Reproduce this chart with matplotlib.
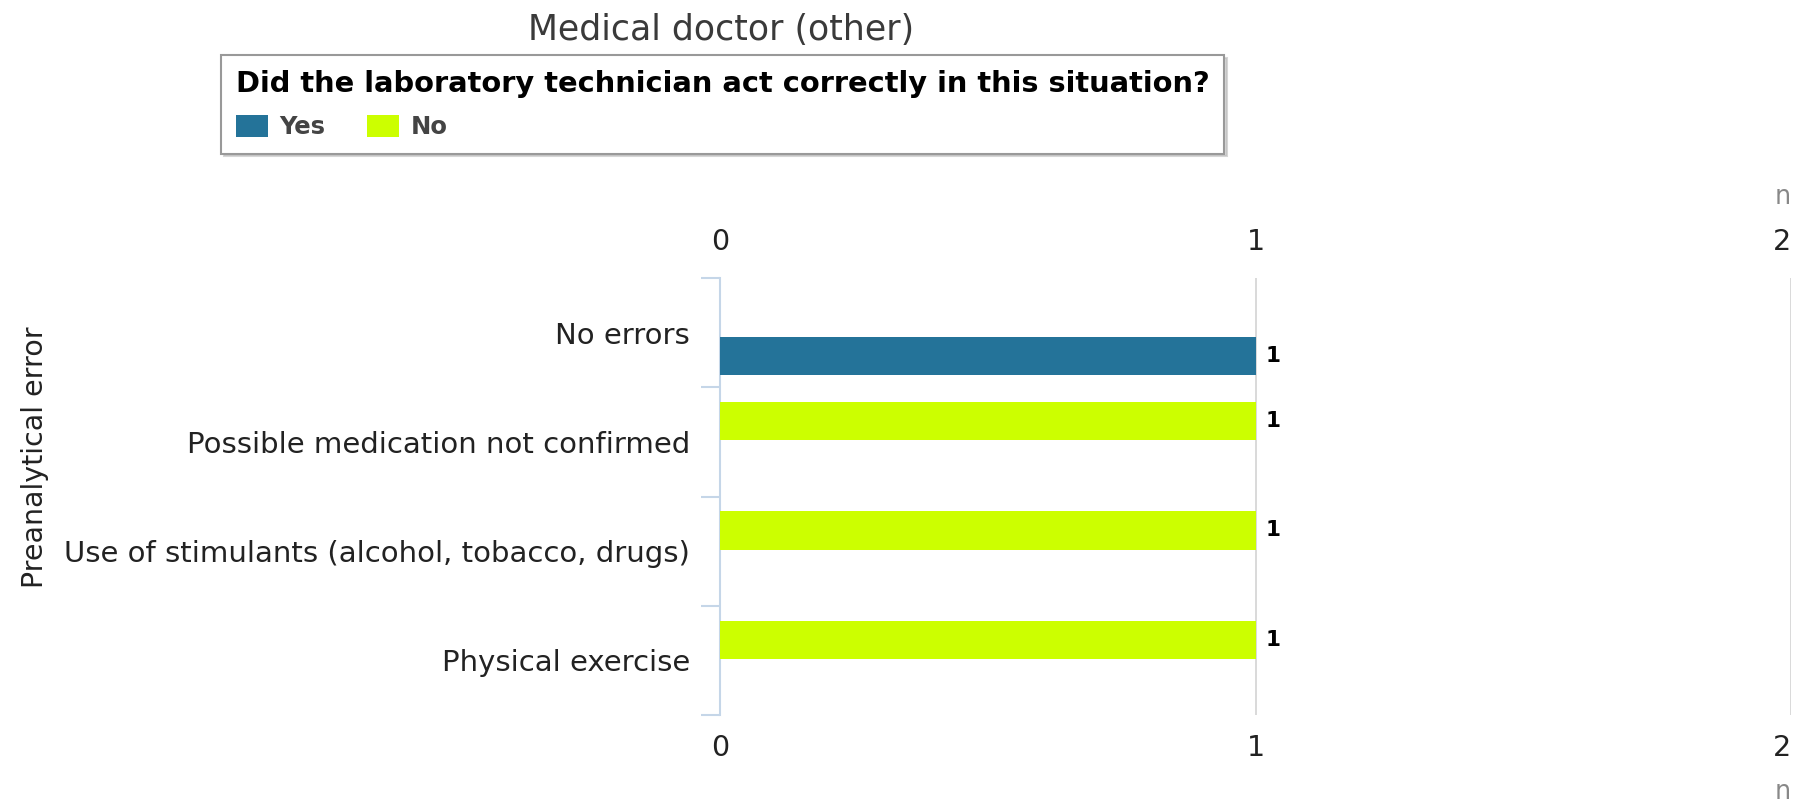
import matplotlib
matplotlib.use('Agg')
import matplotlib.pyplot as plt
import numpy as np

# Data
categories = ['No errors', 'Possible medication not confirmed',
              'Use of stimulants (alcohol, tobacco, drugs)', 'Physical exercise']
yes_counts = [1, 0, 0, 0]
no_counts = [0, 1, 1, 1]
x_ticks = [0, 1, 2]

title = 'Medical doctor (other)'
legend_title = 'Did the laboratory technician act correctly in this situation?'
y_label = 'Preanalytical error'
x_label = 'n'

yes_color = '#247399'
no_color = '#ccff00'
axis_color = '#c5d6e8'
grid_color = '#d9d9d9'
text_color = '#222222'

W, H = 1803, 811
fig = plt.figure(figsize=(W / 100, H / 100), dpi=100)
ax = fig.add_axes([720 / W, 1 - 715 / H, (1791 - 720) / W, (715 - 278.3) / H])

y = np.arange(len(categories))
bar_h = 0.35
b_yes = ax.barh(y + 0.21, yes_counts, height=bar_h, color=yes_color, label='Yes', zorder=3)
b_no = ax.barh(y - 0.19, no_counts, height=bar_h, color=no_color, label='No', zorder=3)

for bars, vals in [(b_yes, yes_counts), (b_no, no_counts)]:
    ax.bar_label(bars, labels=[f'{v:g}' if v else '' for v in vals], padding=7,
                 fontsize=15.5, fontweight='bold', color='black')

ax.set_xlim(0, 2)
ax.set_ylim(len(categories) - 0.5, -0.5)

# y axis: category labels, boundary ticks
ax.set_yticks(y)
ax.set_yticklabels(categories, fontsize=21, color=text_color)
ax.set_yticks(np.arange(len(categories) + 1) - 0.5, minor=True)
ax.tick_params(axis='y', which='major', length=0, pad=21.5)
ax.tick_params(axis='y', which='minor', length=13.7, width=1.5, color=axis_color)

# x axis at bottom and top
ax.set_xticks(x_ticks)
ax.tick_params(axis='x', length=0, pad=14, labelsize=20.5, labelcolor=text_color)
ax.set_xlabel(x_label, loc='right', fontsize=18.4, color='#888888', labelpad=12)
top = ax.secondary_xaxis('top')
top.set_xticks(x_ticks)
top.tick_params(axis='x', length=0, pad=16, labelsize=20.5, labelcolor=text_color)
top.set_xlabel(x_label, loc='right', fontsize=18.4, color='#888888', labelpad=17)
for axis in (ax, top):
    for sp in axis.spines.values():
        sp.set_visible(False)
ax.xaxis.get_majorticklabels()[-1].set_horizontalalignment('right')
top.xaxis.get_majorticklabels()[-1].set_horizontalalignment('right')

ax.spines['left'].set_visible(True)
ax.spines['left'].set_color(axis_color)
ax.spines['left'].set_linewidth(1.5)

ax.xaxis.grid(True, color=grid_color, linewidth=1.4, zorder=0)
ax.set_axisbelow(True)

# titles
fig.text(721 / W, 1 - 40 / H, title, ha='center', va='baseline',
         fontsize=25, color='#3a3a3a')
fig.text(35 / W, 1 - 457 / H, y_label, ha='center', va='center', rotation=90,
         fontsize=20.5, color=text_color)

leg = fig.legend(handles=[b_yes, b_no], labels=['Yes', 'No'], ncol=2,
                 loc='upper left', bbox_to_anchor=(221 / W, 1 - 55 / H),
                 borderaxespad=0, title=legend_title, alignment='left',
                 title_fontproperties={'weight': 'bold', 'size': 20.8},
                 prop={'weight': 'bold', 'size': 17.5}, labelcolor='#444444',
                 handlelength=1.32, handleheight=1.0, handletextpad=0.48,
                 columnspacing=1.7, borderpad=0.6, labelspacing=0.71,
                 fancybox=False, shadow={'color': '#bbbbbb', 'alpha': 0.6},
                 framealpha=1, edgecolor='#999999')
leg.get_frame().set_linewidth(1.5)

fig.savefig('out.png', dpi=100)
